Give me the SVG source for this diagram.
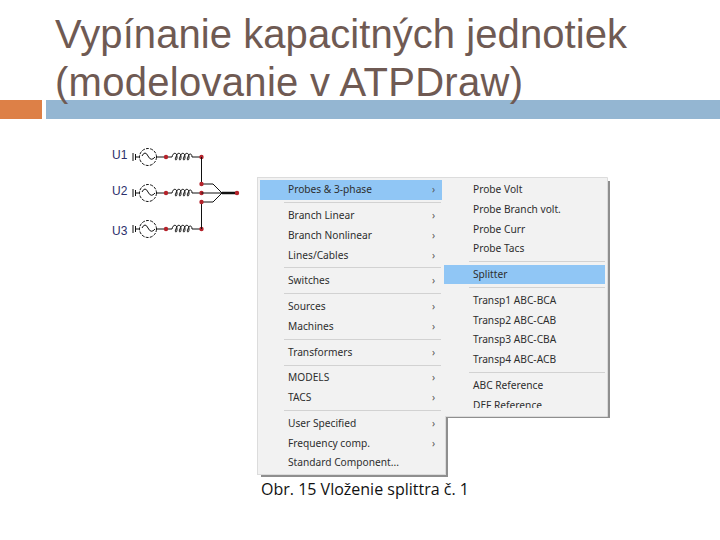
<svg xmlns="http://www.w3.org/2000/svg" width="720" height="540" viewBox="0 0 720 540">
<style>
.t{font-family:"Liberation Sans",Arial,sans-serif;font-size:40px;fill:#6f5a53}
.m{font-family:"Noto Sans","Open Sans",sans-serif;font-size:10.2px;fill:#2e2e2e}
.a{font-family:"Noto Sans",sans-serif;font-size:10px;fill:#555}
.sep{stroke:#d2d2d2;stroke-width:1}
.panel{fill:#f2f2f2;stroke:#dcdcdc;stroke-width:1}
.sh{fill:#8f8f8f}
.hl{fill:#90c6f5}
.w{fill:none;stroke:#111;stroke-width:1}
.d{fill:#b5232b}
.u{font-family:"Liberation Sans",sans-serif;font-size:12px;fill:#2b2f6b}
</style>
<defs>
<g id="src">
<path class="w" d="M133 -4V4M135.500 -3V3M135.500 0H140M156.500 0H166"/>
<circle class="w" cx="148" cy="0" r="8.500" stroke-dasharray="3 1.200"/>
<path class="w" d="M142 -1Q145 -7 148 -1T155 0"/>
<circle class="d" cx="166" cy="0" r="2.200"/>
<circle class="d" cx="201.500" cy="0" r="2.200"/>
</g>
<path id="coil" class="w" d="M166 0H172c1-5 5-5 5 0s-3 3-1 0c1-5 5-5 5 0s-3 3-1 0c1-5 5-5 5 0s-3 3-1 0c1-5 5-5 5 0s-3 3-1 0c1-4 4-4 4 0H201"/>
</defs>
<rect width="720" height="540" fill="#fff"/>
<rect x="0" y="100" width="42" height="19" fill="#dd8047"/>
<rect x="46" y="100" width="674" height="19" fill="#94b6d2"/>
<text class="t" x="55" y="48" textLength="572">Vypínanie kapacitných jednotiek</text>
<text class="t" x="55" y="96" textLength="468">(modelovanie v ATPDraw)</text>

<g id="circuit">
<text class="u" x="112" y="159">U1</text>
<text class="u" x="112" y="195">U2</text>
<text class="u" x="112" y="235">U3</text>
<g transform="translate(0,157)"><use href="#coil"/><use href="#src"/></g>
<g transform="translate(0,193)"><use href="#coil"/><use href="#src"/></g>
<g transform="translate(0,229)"><use href="#coil"/><use href="#src"/></g>
<path class="w" d="M201.500 157V184M201.500 202V229M201.500 184H213L222 193M201.500 193H222M201.500 202H213L222 193"/>
<path d="M222 193H237" stroke="#111" stroke-width="2.500"/>
<circle class="d" cx="201.500" cy="184" r="2.200"/><circle class="d" cx="201.500" cy="202" r="2.200"/><circle class="d" cx="237" cy="193" r="2.200"/>
</g>

<g id="menu-main">
<rect class="sh" x="261" y="181" width="187" height="296"/>
<rect class="panel" x="257.500" y="177.500" width="188" height="297"/>
<rect class="hl" x="260" y="180" width="182" height="20"/>
<path class="sep" d="M284 202.500H441M284 267.500H441M284 293.500H441M284 339.500H441M284 365.500H441M284 410.500H441"/>
<text class="m" x="288" y="193">Probes &amp; 3-phase</text>
<text class="m" x="288" y="219">Branch Linear</text>
<text class="m" x="288" y="239">Branch Nonlinear</text>
<text class="m" x="288" y="259">Lines/Cables</text>
<text class="m" x="288" y="284">Switches</text>
<text class="m" x="288" y="310">Sources</text>
<text class="m" x="288" y="330">Machines</text>
<text class="m" x="288" y="356">Transformers</text>
<text class="m" x="288" y="381">MODELS</text>
<text class="m" x="288" y="401">TACS</text>
<text class="m" x="288" y="427">User Specified</text>
<text class="m" x="288" y="447">Frequency comp.</text>
<text class="m" x="288" y="466">Standard Component...</text>
<text class="a" x="432" y="193">›</text><text class="a" x="432" y="219">›</text><text class="a" x="432" y="239">›</text><text class="a" x="432" y="259">›</text><text class="a" x="432" y="284">›</text><text class="a" x="432" y="310">›</text><text class="a" x="432" y="330">›</text><text class="a" x="432" y="356">›</text><text class="a" x="432" y="381">›</text><text class="a" x="432" y="401">›</text><text class="a" x="432" y="427">›</text><text class="a" x="432" y="447">›</text>
</g>

<g id="menu-sub">
<rect class="sh" x="446" y="181" width="164" height="237"/>
<rect x="442" y="178" width="165" height="238" fill="#f2f2f2"/>
<path d="M442 177.500H607.500V416.500H446" fill="none" stroke="#dcdcdc"/>
<rect class="hl" x="444" y="265" width="161" height="19"/>
<path class="sep" d="M469 261.500H605M469 287.500H605M469 372.500H605"/>
<text class="m" x="473" y="193">Probe Volt</text>
<text class="m" x="473" y="213">Probe Branch volt.</text>
<text class="m" x="473" y="233">Probe Curr</text>
<text class="m" x="473" y="252">Probe Tacs</text>
<text class="m" x="473" y="278">Splitter</text>
<text class="m" x="473" y="304">Transp1 ABC-BCA</text>
<text class="m" x="473" y="324">Transp2 ABC-CAB</text>
<text class="m" x="473" y="343">Transp3 ABC-CBA</text>
<text class="m" x="473" y="363">Transp4 ABC-ACB</text>
<text class="m" x="473" y="389">ABC Reference</text>
<text class="m" x="473" y="409">DEF Reference</text>
<rect x="470" y="408" width="100" height="8" fill="#f2f2f2"/>
</g>
<text x="261" y="495" font-family="'Open Sans','Noto Sans',sans-serif" font-size="16" fill="#111">Obr. 15 Vloženie splittra č. 1</text>
</svg>
